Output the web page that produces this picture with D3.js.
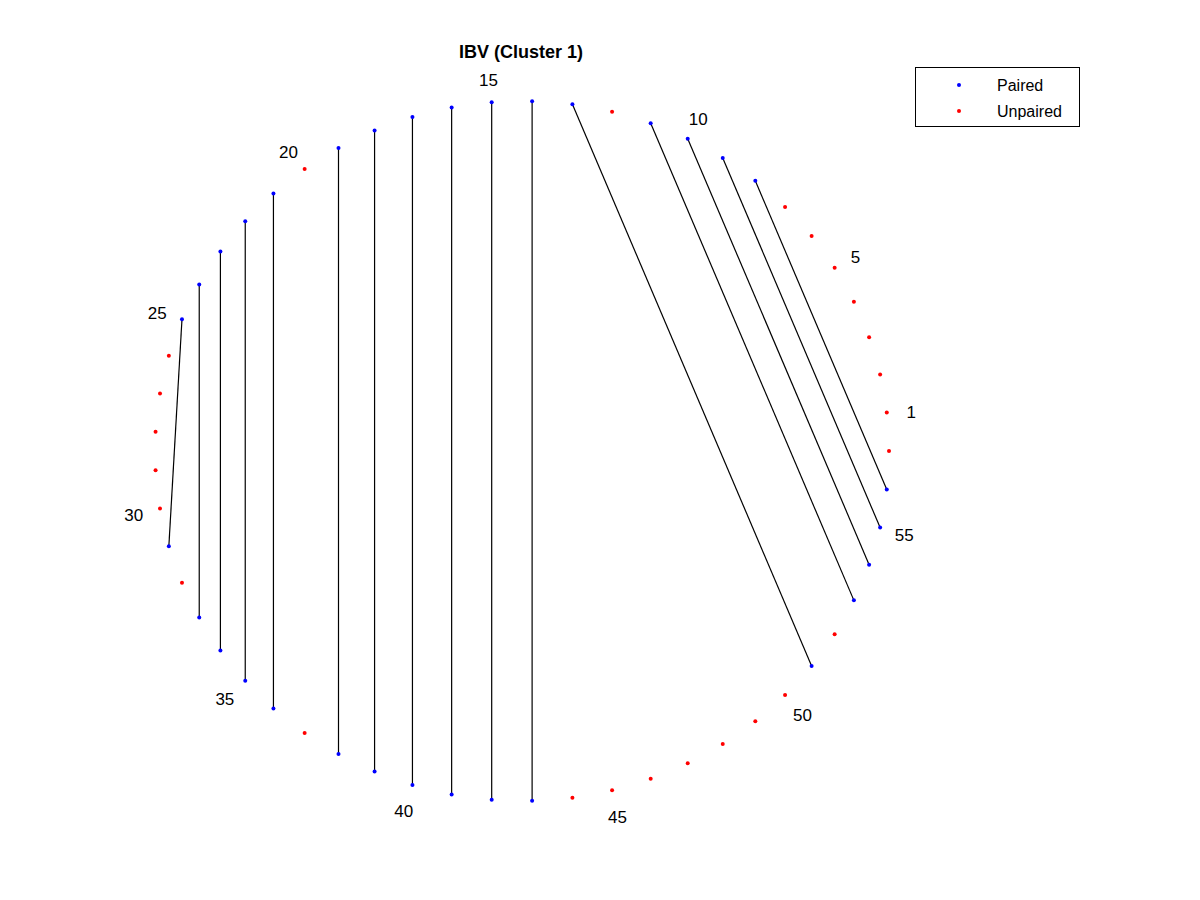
<!DOCTYPE html>
<html><head><meta charset="utf-8">
<script src="https://cdn.jsdelivr.net/npm/d3@7"></script>
<style>body{margin:0;background:#fff}</style></head>
<body><svg id="c" width="1200" height="900"></svg>
<script>
const nBases = 57;
const pairs = [[25,31],[24,33],[23,34],[22,35],[21,36],[19,38],[18,39],[17,40],[16,41],[15,42],[14,43],[13,51],[11,53],[10,54],[9,55],[8,56]];
const tickLabels = [1,5,10,15,20,25,30,35,40,45,50,55];
const title = "IBV (Cluster 1)";

const svg = d3.select("#c");
const x = d3.scaleLinear().domain([-1,1]).range([155,889]);
const y = d3.scaleLinear().domain([-1,1]).range([801,101]);
const ang = k => 2*Math.PI*k/nBases;
const px = (k,r=1) => x(r*Math.cos(ang(k)));
const py = (k,r=1) => y(r*Math.sin(ang(k)));
const paired = new Set(pairs.flat());
const bases = d3.range(1,nBases+1);

svg.selectAll("line.p").data(pairs).join("line")
  .attr("x1",d=>px(d[0])).attr("y1",d=>py(d[0]))
  .attr("x2",d=>px(d[1])).attr("y2",d=>py(d[1]))
  .attr("stroke","#000").attr("stroke-width",1.2);
svg.selectAll("circle.b").data(bases).join("circle")
  .attr("cx",d=>px(d)).attr("cy",d=>py(d)).attr("r",2)
  .attr("fill",d=>paired.has(d)?"#0000ff":"#ff0000");
svg.selectAll("text.t").data(tickLabels).join("text")
  .attr("x",d=>px(d,1.07)-1).attr("y",d=>py(d,1.07)+3)
  .attr("text-anchor","middle").attr("dominant-baseline","central")
  .attr("font-family","Liberation Sans, Arial, sans-serif").attr("font-size",17).text(d=>d);
svg.append("text").attr("x",521).attr("y",58).attr("text-anchor","middle")
  .attr("font-family","Liberation Sans, Arial, sans-serif").attr("font-size",18).attr("font-weight","bold").text(title);

const lg = svg.append("g");
lg.append("rect").attr("x",915.5).attr("y",67.5).attr("width",164).attr("height",59).attr("fill","#fff").attr("stroke","#000");
[["Paired","#0000ff",85],["Unpaired","#ff0000",111]].forEach(([t,c,yy])=>{
  lg.append("circle").attr("cx",959).attr("cy",yy).attr("r",2).attr("fill",c);
  lg.append("text").attr("x",997).attr("y",yy).attr("dominant-baseline","central")
    .attr("font-family","Liberation Sans, Arial, sans-serif").attr("font-size",16).text(t);
});
</script></body></html>
